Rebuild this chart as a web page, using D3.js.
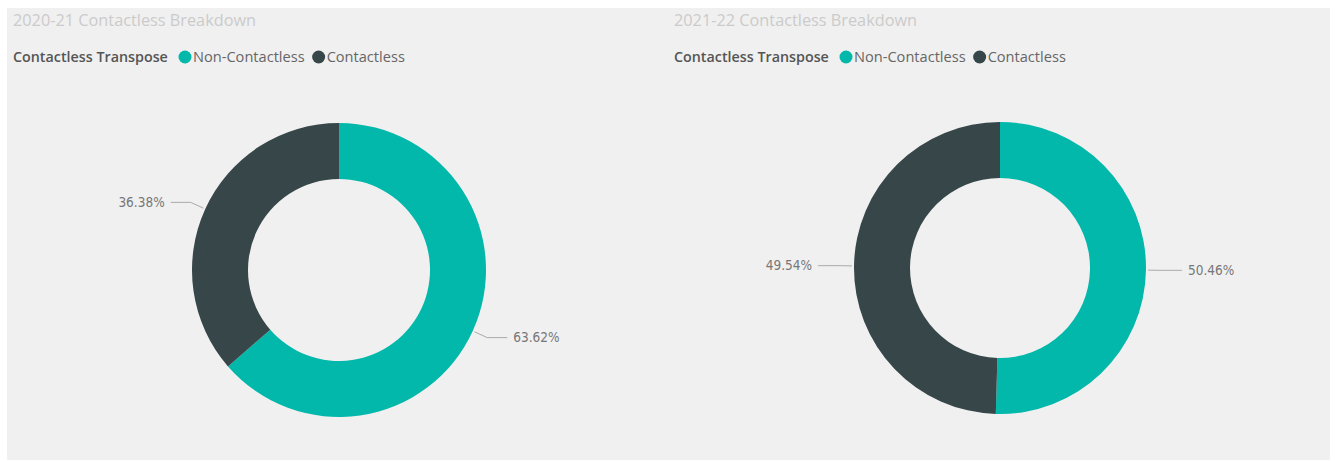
<!DOCTYPE html>
<html><head><meta charset="utf-8">
<script src="https://cdn.jsdelivr.net/npm/d3@7"></script>
<style>html,body{margin:0;padding:0;background:#fff;}svg{display:block;}</style>
</head><body>
<script>
const categories = ["Non-Contactless", "Contactless"];
const colors = ["#01B8AA", "#374649"];
const titles = ["2020-21 Contactless Breakdown", "2021-22 Contactless Breakdown"];
const values2021 = [63.62, 36.38];
const values2122 = [50.46, 49.54];
const legendTitle = "Contactless Transpose";

const W = 1335, H = 461;
const svg = d3.select("body").append("svg").attr("width", W).attr("height", H);
svg.append("rect").attr("x", 7).attr("y", 8).attr("width", 1323).attr("height", 452).attr("fill", "#f0f0f0");

const panels = [
  {x0: 13, cx: 339, cy: 270, R: 147, r: 91, values: values2021, title: titles[0]},
  {x0: 674, cx: 1000, cy: 268, R: 146, r: 90, values: values2122, title: titles[1]}
];
const color = d3.scaleOrdinal().domain(categories).range(colors);
const uiFont = "'Open Sans', 'Noto Sans', sans-serif";

panels.forEach(p => {
  const g = svg.append("g");
  g.append("text").attr("x", p.x0).attr("y", 26).attr("font-family", uiFont)
    .attr("font-size", 16.3).attr("fill", "#cbcbcb").text(p.title);
  // legend
  g.append("text").attr("x", p.x0).attr("y", 62).attr("font-family", uiFont)
    .attr("font-size", 14.3).attr("font-weight", 600).attr("fill", "#555").text(legendTitle);
  let lx = p.x0 + 172;
  categories.forEach((c, i) => {
    g.append("circle").attr("cx", lx).attr("cy", 57).attr("r", 6.5).attr("fill", color(c));
    const t = g.append("text").attr("x", lx + 8).attr("y", 62).attr("font-family", uiFont)
      .attr("font-size", 14.6).attr("fill", "#666").text(c);
    lx = lx + 8 + t.node().getComputedTextLength() + 14;
  });

  const data = categories.map((c, i) => ({cat: c, value: p.values[i]}));
  const pie = d3.pie().sort(null).value(d => d.value);
  const arcs = pie(data);
  const arc = d3.arc().innerRadius(p.r).outerRadius(p.R);
  const cg = g.append("g").attr("transform", `translate(${p.cx},${p.cy})`);
  cg.selectAll("path").data(arcs).join("path").attr("d", arc).attr("fill", d => color(d.data.cat));

  arcs.forEach(a => {
    const m = (a.startAngle + a.endAngle) / 2;
    const pt = rad => [Math.sin(m) * rad, -Math.cos(m) * rad];
    const p1 = pt(p.R + 2), p2 = pt(p.R + 16);
    const side = Math.sin(m) >= 0 ? 1 : -1;
    const p3 = [p2[0] + side * 20, p2[1]];
    cg.append("polyline").attr("points", [p1, p2, p3].map(q => q.join(",")).join(" "))
      .attr("fill", "none").attr("stroke", "#aaa").attr("stroke-width", 1);
    cg.append("text").attr("x", p3[0] + side * 6).attr("y", p3[1]).attr("dy", "0.35em")
      .attr("text-anchor", side > 0 ? "start" : "end")
      .attr("font-family", "'DejaVu Sans Condensed', 'Roboto', sans-serif").attr("font-size", 13.5)
      .attr("fill", "#777").text(a.data.value.toFixed(2) + "%");
  });
});
</script>
</body></html>
